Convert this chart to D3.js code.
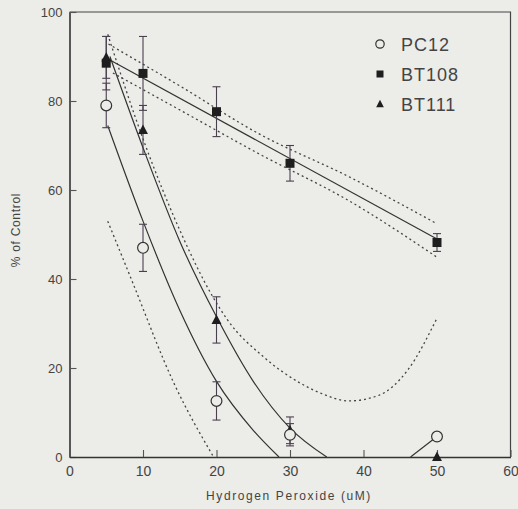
<!DOCTYPE html>
<html>
<head>
<meta charset="utf-8">
<script src="https://cdn.jsdelivr.net/npm/d3@7"></script>
<style>
  body { margin: 0; background: #ecece9; }
  svg { display: block; font-family: "Liberation Sans", Arial, sans-serif; }
</style>
</head>
<body>
<div id="chart"></div>
<script>
const doses = [5, 10, 20, 30, 50];
const pc12 = [79, 47, 12.6, 5, 4.6];
const pc12Err = [5, 5.3, 4.3, 2.5, 0];
const bt108 = [88.5, 86.2, 77.6, 66, 48.2];
const bt108Err = [6, 8.3, 5.6, 4, 2];
const bt111 = [89.8, 73.5, 30.8, 6, 0];
const bt111Err = [4.7, 5.5, 5.2, 3, 0];

// fitted curves and confidence bands (x, y) as drawn
const bt108Fit = [[5.5, 89.2], [50, 49]];
const bt108Upper = [[5.3, 92.8], [15, 83.4], [25.7, 72.7], [38, 63], [50, 52.4]];
const bt108Lower = [[5.9, 86.3], [15, 78], [25.7, 68.2], [38, 57.6], [50, 44.9]];
const bt111Fit = [[5.5, 90], [10, 69.5], [15, 48.5], [20, 31.5], [25, 17], [30, 6.5], [35, 0]];
const bt111Upper = [[5.2, 95], [10, 71.5], [15, 51], [19.5, 36], [21.5, 30.8], [26.4, 22.5],
  [31.4, 16.6], [34.1, 14.4], [38, 12.6], [42, 13.8], [46, 19.5], [50, 31.2]];
const pc12Fit = [[5.2, 74.5], [10, 53], [15, 33], [20, 17], [25, 6], [28.5, 0]];
const pc12Fit2 = [[46.4, 0], [50, 4.6]];
const pc12Lower = [[5.2, 53], [8.4, 40], [14.2, 16.6], [19.6, 0]];

const xTicks = [0, 10, 20, 30, 40, 50, 60];
const yTicks = [0, 20, 40, 60, 80, 100];
const legendNames = ["PC12", "BT108", "BT111"];

const width = 518, height = 509;
const bg = "#ecece9";

const svg = d3.select("#chart").append("svg")
  .attr("width", width)
  .attr("height", height);

svg.append("rect").attr("width", width).attr("height", height).attr("fill", bg);

const x = d3.scaleLinear().domain([0, 60]).range([69.5, 510.5]);
const y = d3.scaleLinear().domain([0, 100]).range([457, 12]);

// frame (top + right)
svg.append("path")
  .attr("d", `M${x(0)},${y(100)}H${x(60)}V${y(0)}`)
  .attr("fill", "none").attr("stroke", "#444").attr("stroke-width", 1.2);

const yaxis = d3.axisLeft(y).tickValues(yTicks).tickSizeInner(-7).tickSizeOuter(0).tickPadding(7);
const xaxis = d3.axisBottom(x).tickValues(xTicks).tickSizeInner(-7).tickSizeOuter(0).tickPadding(9);

const gy = svg.append("g").attr("transform", `translate(${x(0)},0)`).call(yaxis);
const gx = svg.append("g").attr("transform", `translate(0,${y(0)})`).call(xaxis);

[gy, gx].forEach(g => {
  g.select(".domain").attr("stroke", "#333").attr("stroke-width", 1.6);
  g.selectAll(".tick line").attr("stroke", "#555").attr("stroke-width", 1.1);
  g.selectAll(".tick text").attr("fill", "#444").attr("font-family", "Liberation Sans, Arial, sans-serif");
});
gy.selectAll(".tick text").attr("font-size", 13);
gx.selectAll(".tick text").attr("font-size", 14);

// axis titles
svg.append("text")
  .attr("x", 289).attr("y", 500)
  .attr("text-anchor", "middle")
  .attr("font-size", 12).attr("letter-spacing", 1.6)
  .attr("fill", "#444")
  .text("Hydrogen Peroxide (uM)");

svg.append("text")
  .attr("transform", "translate(20,230) rotate(-90)")
  .attr("text-anchor", "middle")
  .attr("font-size", 12).attr("letter-spacing", 0.7)
  .attr("fill", "#444")
  .text("% of Control");

// curves
svg.append("clipPath").attr("id", "plot")
  .append("rect")
  .attr("x", x(0)).attr("y", y(100))
  .attr("width", x(60) - x(0)).attr("height", y(0) - y(100));

const line = d3.line().x(d => x(d[0])).y(d => y(d[1])).curve(d3.curveMonotoneX);
const curves = svg.append("g").attr("clip-path", "url(#plot)").attr("fill", "none");

function drawCurve(pts, dotted) {
  curves.append("path")
    .attr("d", line(pts))
    .attr("stroke", dotted ? "#444" : "#333")
    .attr("stroke-width", dotted ? 1.3 : 1.2)
    .attr("stroke-dasharray", dotted ? "2,3" : null);
}

drawCurve(bt108Fit, false);
drawCurve(bt108Upper, true);
drawCurve(bt108Lower, true);
drawCurve(bt111Fit, false);
drawCurve(bt111Upper, true);
drawCurve(pc12Fit, false);
drawCurve(pc12Fit2, false);
drawCurve(pc12Lower, true);

// error bars
const series = [
  { name: "PC12", vals: pc12, errs: pc12Err, shape: "circle" },
  { name: "BT108", vals: bt108, errs: bt108Err, shape: "square" },
  { name: "BT111", vals: bt111, errs: bt111Err, shape: "triangle" }
];

const bars = svg.append("g").attr("stroke", "#4a3f4f").attr("stroke-width", 1.1);
series.forEach(s => {
  doses.forEach((d, i) => {
    const e = s.errs[i];
    if (!e) return;
    const cx = x(d), y1 = y(s.vals[i] + e), y2 = y(Math.max(0, s.vals[i] - e));
    bars.append("line").attr("x1", cx).attr("x2", cx).attr("y1", y1).attr("y2", y2);
    bars.append("line").attr("x1", cx - 4).attr("x2", cx + 4).attr("y1", y1).attr("y2", y1);
    bars.append("line").attr("x1", cx - 4).attr("x2", cx + 4).attr("y1", y2).attr("y2", y2);
  });
});

// markers
function marker(g, shape, cx, cy, size) {
  if (shape === "circle") {
    g.append("circle").attr("cx", cx).attr("cy", cy).attr("r", size * 0.6)
      .attr("fill", bg).attr("stroke", "#333").attr("stroke-width", 1.2);
  } else if (shape === "square") {
    g.append("rect").attr("x", cx - size / 2).attr("y", cy - size / 2)
      .attr("width", size).attr("height", size).attr("fill", "#1e1e1e");
  } else {
    const h = size;
    g.append("path")
      .attr("d", `M${cx},${cy - h * 0.6}L${cx + h * 0.55},${cy + h * 0.45}L${cx - h * 0.55},${cy + h * 0.45}Z`)
      .attr("fill", "#1e1e1e");
  }
}

const marks = svg.append("g");
[series[2], series[0], series[1]].forEach(s => {
  doses.forEach((d, i) => marker(marks, s.shape, x(d), y(s.vals[i]), 9));
});

// legend
const legend = svg.append("g");
legendNames.forEach((name, i) => {
  const s = series.find(t => t.name === name);
  const ly = 44 + i * 30;
  marker(legend, s.shape, 380, ly, 7);
  legend.append("text")
    .attr("x", 401).attr("y", ly + 6.5)
    .attr("font-size", 18).attr("letter-spacing", 1)
    .attr("fill", "#444")
    .text(name);
});
</script>
</body>
</html>
